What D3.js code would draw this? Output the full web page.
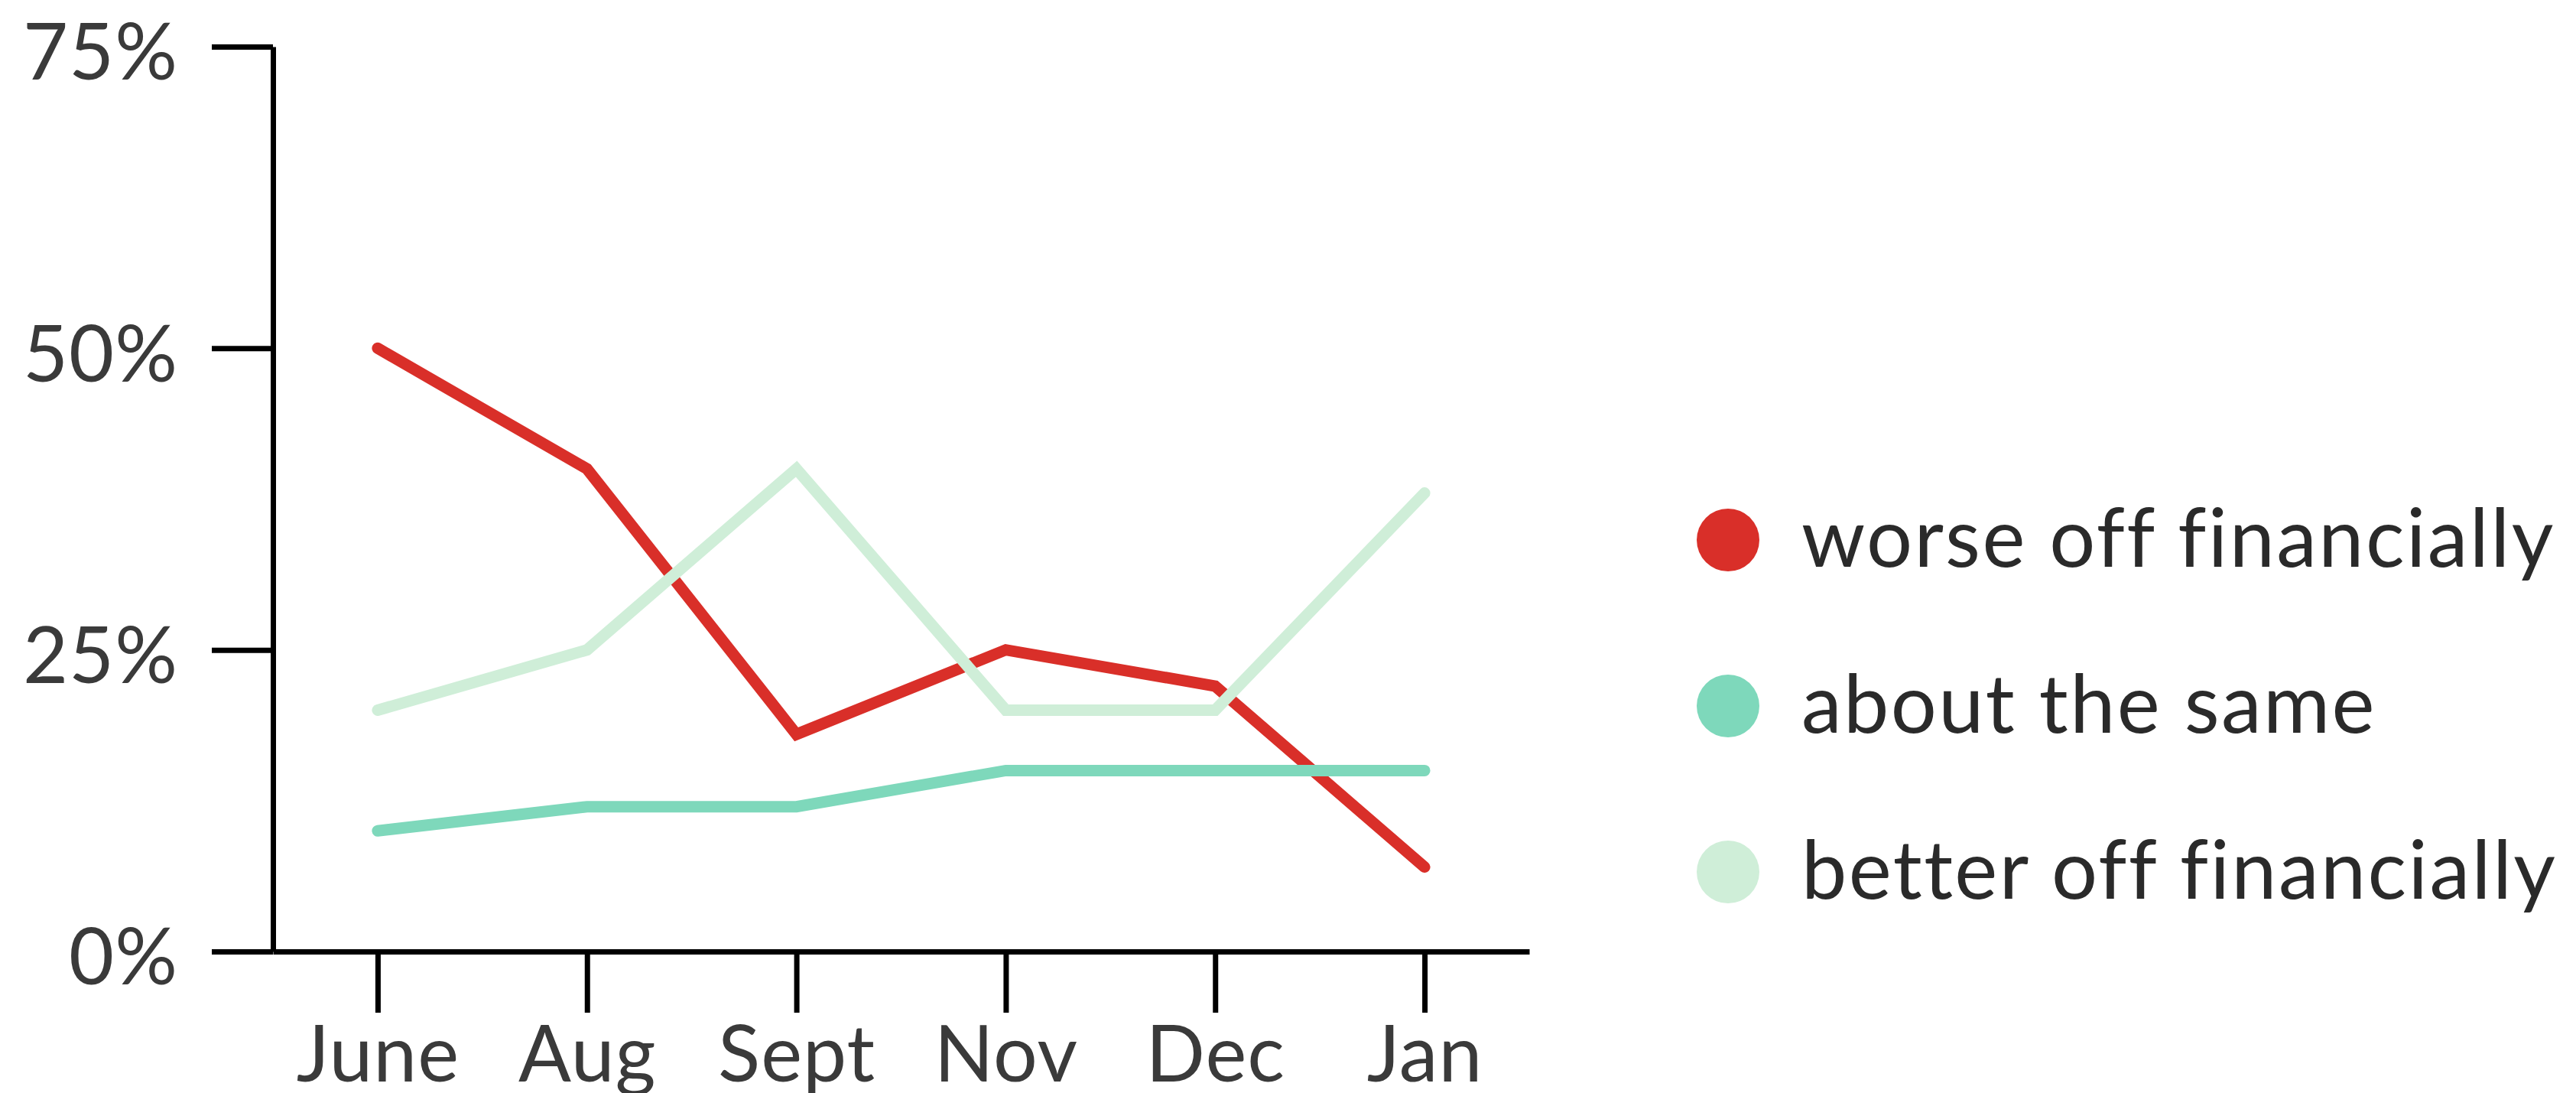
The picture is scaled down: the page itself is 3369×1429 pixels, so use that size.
<!DOCTYPE html>
<html>
<head>
<meta charset="utf-8">
<script src="https://cdn.jsdelivr.net/npm/d3@7"></script>
<style>
  html, body { margin: 0; padding: 0; background: #fff; }
  svg { display: block; }
  text { font-family: Lato, "Noto Sans", sans-serif; }
</style>
</head>
<body>
<svg id="chart" width="3369" height="1429"></svg>
<script>
const months = ["June", "Aug", "Sept", "Nov", "Dec", "Jan"];
const worseOff = [50, 40, 18, 25, 22, 7];
const aboutSame = [10, 12, 12, 15, 15, 15];
const betterOff = [20, 25, 40, 20, 20, 38];
const yTicks = [0, 25, 50, 75];
const seriesNames = ["worse off financially", "about the same", "better off financially"];
const seriesColors = ["#d92f29", "#7ed8bb", "#cfeed8"];

const svg = d3.select("#chart");
const plotLeft = 357, plotRight = 2000, plotTop = 61, plotBottom = 1244;

const x = d3.scalePoint().domain(months).range([plotLeft, plotRight]).padding(0.5);
const y = d3.scaleLinear().domain([0, 75]).range([plotBottom, plotTop]);

const series = [
  { name: seriesNames[0], values: worseOff, color: seriesColors[0] },
  { name: seriesNames[1], values: aboutSame, color: seriesColors[1] },
  { name: seriesNames[2], values: betterOff, color: seriesColors[2] }
];
const line = d3.line().x((d, i) => x(months[i])).y(d => y(d));
svg.append("g").selectAll("path").data(series).join("path")
  .attr("d", d => line(d.values))
  .attr("fill", "none")
  .attr("stroke", d => d.color)
  .attr("stroke-width", 15)
  .attr("stroke-linecap", "round")
  .attr("stroke-linejoin", "miter");

const yAxis = svg.append("g").attr("transform", `translate(${plotLeft},0)`)
  .call(d3.axisLeft(y).tickValues(yTicks).tickSize(80).tickSizeOuter(0).tickPadding(44).tickFormat(d => d + "%"));
const xAxis = svg.append("g").attr("transform", `translate(0,${plotBottom})`)
  .call(d3.axisBottom(x).tickSize(80).tickSizeOuter(0));

[yAxis, xAxis].forEach(g => {
  g.selectAll("path, line").attr("stroke", "#000").attr("stroke-width", 7);
  g.selectAll("text").attr("fill", "#3a3a3a").attr("font-size", 102)
    .attr("letter-spacing", 1)
    .style("font-family", "Lato, 'Noto Sans', sans-serif");
});
yAxis.selectAll("text").attr("dy", "0.42em");
xAxis.selectAll("text").attr("y", 170).attr("dy", 0);

const legend = svg.append("g");
const lg = legend.selectAll("g").data(series).join("g")
  .attr("transform", (d, i) => `translate(2260,${706 + i * 217})`);
lg.append("circle").attr("r", 41).attr("fill", d => d.color);
lg.append("text").attr("x", 96).attr("y", 35)
  .attr("font-size", 106).attr("letter-spacing", 2.4).attr("fill", "#2a2a2a")
  .text(d => d.name);
</script>
</body>
</html>
